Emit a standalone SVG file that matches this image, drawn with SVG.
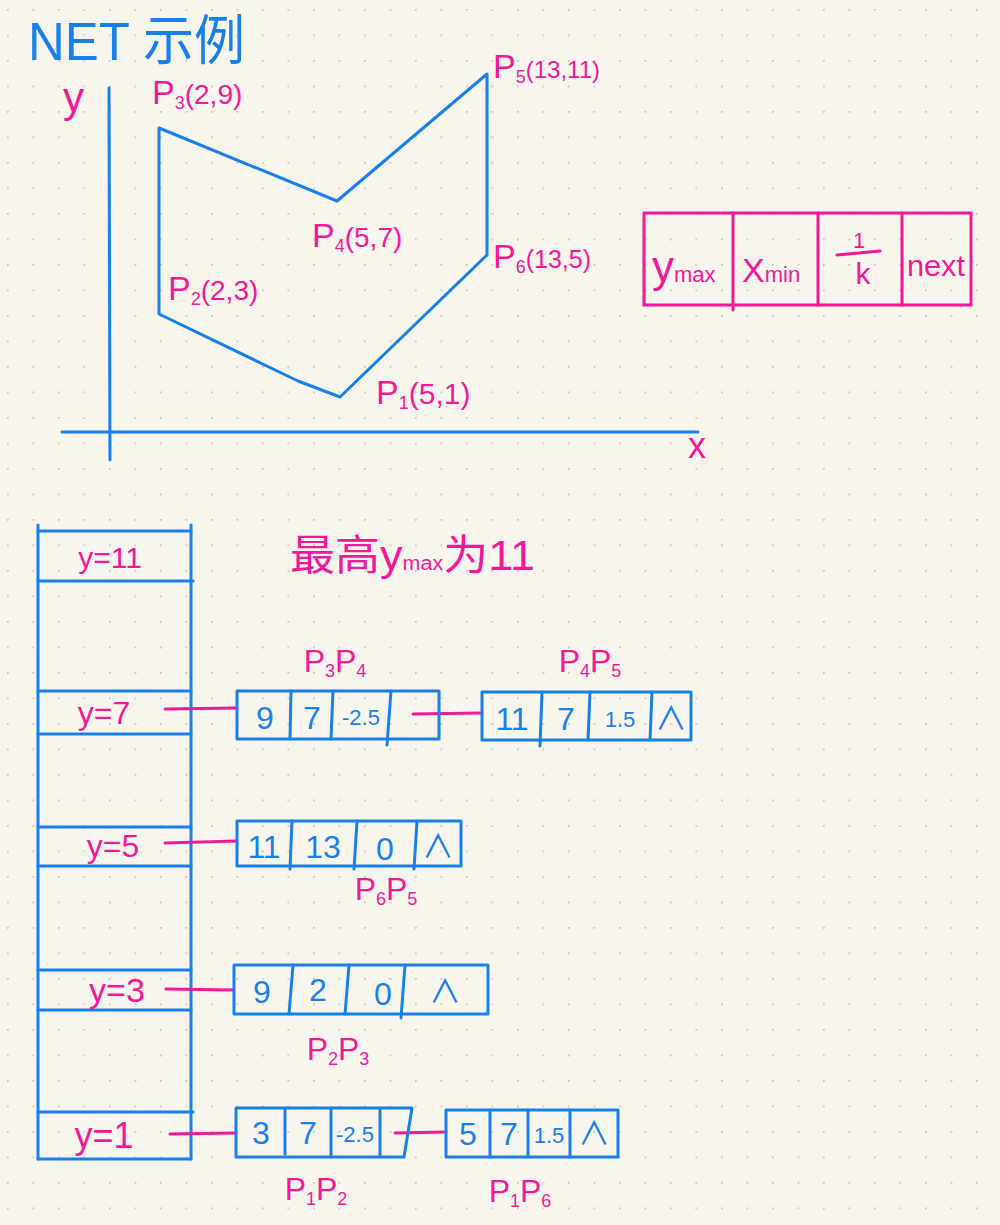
<svg xmlns="http://www.w3.org/2000/svg" width="1000" height="1225" viewBox="0 0 1000 1225">
<defs>
<pattern id="dots" x="7" y="9" width="25.5" height="25.5" patternUnits="userSpaceOnUse">
<circle cx="0.8" cy="0.8" r="1.1" fill="#c9c7bd"/>
</pattern>
<style>
.b{stroke:#1880ec;stroke-width:3;fill:none;stroke-linejoin:round;stroke-linecap:round}
.p{stroke:#f2189a;stroke-width:3;fill:none;stroke-linecap:round}
.tb{fill:#1880ec;font-family:"Liberation Sans","Noto Sans CJK SC",sans-serif}
.tp{fill:#f2189a;font-family:"Liberation Sans","Noto Sans CJK SC",sans-serif}
.v{font-size:32px;text-anchor:middle}
.s{font-size:22px;text-anchor:middle}
.lab{font-size:34px}
.sub{font-size:18px}
.co{font-size:28px}
</style>
</defs>
<rect width="1000" height="1225" fill="#f8f6ec"/>
<rect width="1000" height="1225" fill="url(#dots)"/>

<g id="title">
<text class="tb" x="28" y="60" font-size="54" textLength="217" lengthAdjust="spacingAndGlyphs">NET 示例</text>
</g>

<g id="axes">
<line class="b" x1="109" y1="88" x2="110" y2="460"/>
<line class="b" x1="62" y1="432" x2="698" y2="432"/>
<text class="tp" x="63" y="112" font-size="42">y</text>
<text class="tp" x="688" y="458" font-size="36">x</text>
</g>

<g id="polygon">
<path class="b" d="M159,128 L337,201 L487,74 L487,255 L340,397 L298,381 L159,314 Z"/>
</g>

<g id="vertex-labels">
<text class="tp lab" x="152" y="104">P<tspan class="sub" dy="5">3</tspan><tspan class="co" dy="-5">(2,9)</tspan></text>
<text class="tp lab" x="493" y="78">P<tspan class="sub" dy="5">5</tspan><tspan font-size="24" dy="-5">(13,11)</tspan></text>
<text class="tp lab" x="312" y="247">P<tspan class="sub" dy="5">4</tspan><tspan class="co" dy="-5">(5,7)</tspan></text>
<text class="tp lab" x="493" y="268">P<tspan class="sub" dy="5">6</tspan><tspan font-size="25" dy="-5">(13,5)</tspan></text>
<text class="tp lab" x="168" y="300">P<tspan class="sub" dy="5">2</tspan><tspan class="co" dy="-5">(2,3)</tspan></text>
<text class="tp lab" x="376" y="404">P<tspan class="sub" dy="5">1</tspan><tspan font-size="30" dy="-5">(5,1)</tspan></text>
</g>

<g id="legend">
<rect class="p" x="644" y="213" width="327" height="92"/>
<line class="p" x1="733" y1="213" x2="733" y2="310"/>
<line class="p" x1="818" y1="213" x2="818" y2="305"/>
<line class="p" x1="902" y1="213" x2="902" y2="305"/>
<text class="tp" x="652" y="282" font-size="44">y<tspan font-size="22">max</tspan></text>
<text class="tp" x="742" y="282" font-size="34">X<tspan font-size="22">min</tspan></text>
<line class="p" x1="837" y1="255" x2="880" y2="251"/>
<text class="tp" x="859" y="248" font-size="22" text-anchor="middle">1</text>
<text class="tp" x="863" y="284" font-size="30" text-anchor="middle">k</text>
<text class="tp" x="936" y="276" font-size="30" text-anchor="middle" textLength="58" lengthAdjust="spacingAndGlyphs">next</text>
</g>

<g id="caption">
<text class="tp" x="290" y="570" font-size="42" textLength="245" lengthAdjust="spacingAndGlyphs">最高y<tspan font-size="20">max</tspan>为11</text>
</g>

<g id="bucket-table">
<line class="b" x1="38" y1="525" x2="38" y2="1159"/>
<line class="b" x1="191" y1="525" x2="191" y2="1159"/>
<line class="b" x1="38" y1="531" x2="191" y2="531"/>
<line class="b" x1="38" y1="581" x2="193" y2="581"/>
<line class="b" x1="38" y1="691" x2="191" y2="691"/>
<line class="b" x1="38" y1="734" x2="191" y2="734"/>
<line class="b" x1="38" y1="827" x2="191" y2="827"/>
<line class="b" x1="38" y1="866" x2="191" y2="866"/>
<line class="b" x1="38" y1="970" x2="191" y2="970"/>
<line class="b" x1="38" y1="1010" x2="191" y2="1010"/>
<line class="b" x1="38" y1="1112" x2="193" y2="1112"/>
<line class="b" x1="38" y1="1159" x2="191" y2="1159"/>
<text class="tp" x="110" y="568" font-size="30" text-anchor="middle">y=11</text>
<text class="tp" x="104" y="724" font-size="32" text-anchor="middle">y=7</text>
<text class="tp" x="113" y="857" font-size="32" text-anchor="middle">y=5</text>
<text class="tp" x="117" y="1002" font-size="34" text-anchor="middle">y=3</text>
<text class="tp" x="104" y="1148" font-size="36" text-anchor="middle">y=1</text>
</g>

<g id="connectors">
<line class="p" x1="165" y1="709" x2="237" y2="708"/>
<line class="p" x1="413" y1="714" x2="482" y2="713"/>
<line class="p" x1="165" y1="843" x2="237" y2="841"/>
<line class="p" x1="166" y1="989" x2="233" y2="990"/>
<line class="p" x1="170" y1="1134" x2="236" y2="1133"/>
<line class="p" x1="395" y1="1133" x2="446" y2="1132"/>
</g>

<g id="node-p3p4">
<rect class="b" x="237" y="691" width="202" height="48"/>
<line class="b" x1="291" y1="691" x2="290" y2="739"/>
<line class="b" x1="333" y1="691" x2="331" y2="739"/>
<line class="b" x1="391" y1="691" x2="387" y2="745"/>
<text class="tb v" x="265" y="729">9</text>
<text class="tb v" x="312" y="729">7</text>
<text class="tb s" x="361" y="725">-2.5</text>
<text class="tp" x="335" y="672" font-size="32" text-anchor="middle">P<tspan class="sub" dy="5">3</tspan><tspan dy="-5">P</tspan><tspan class="sub" dy="5">4</tspan></text>
</g>

<g id="node-p4p5">
<rect class="b" x="482" y="692" width="209" height="48"/>
<line class="b" x1="542" y1="692" x2="540" y2="746"/>
<line class="b" x1="590" y1="692" x2="588" y2="740"/>
<line class="b" x1="652" y1="692" x2="650" y2="740"/>
<text class="tb v" x="512" y="730">11</text>
<text class="tb v" x="566" y="730">7</text>
<text class="tb s" x="620" y="727">1.5</text>
<text class="tb v" x="671" y="730">∧</text>
<text class="tp" x="590" y="672" font-size="32" text-anchor="middle">P<tspan class="sub" dy="5">4</tspan><tspan dy="-5">P</tspan><tspan class="sub" dy="5">5</tspan></text>
</g>

<g id="node-p6p5">
<rect class="b" x="237" y="821" width="224" height="45"/>
<line class="b" x1="292" y1="821" x2="290" y2="869"/>
<line class="b" x1="357" y1="821" x2="354" y2="869"/>
<line class="b" x1="417" y1="821" x2="414" y2="869"/>
<text class="tb v" x="264" y="858">11</text>
<text class="tb v" x="323" y="858">13</text>
<text class="tb v" x="385" y="860">0</text>
<text class="tb v" x="438" y="858">∧</text>
<text class="tp" x="386" y="900" font-size="32" text-anchor="middle">P<tspan class="sub" dy="5">6</tspan><tspan dy="-5">P</tspan><tspan class="sub" dy="5">5</tspan></text>
</g>

<g id="node-p2p3">
<rect class="b" x="234" y="965" width="254" height="49"/>
<line class="b" x1="293" y1="965" x2="289" y2="1014"/>
<line class="b" x1="349" y1="965" x2="345" y2="1014"/>
<line class="b" x1="405" y1="965" x2="401" y2="1018"/>
<text class="tb v" x="262" y="1003">9</text>
<text class="tb v" x="318" y="1001">2</text>
<text class="tb v" x="383" y="1005">0</text>
<text class="tb v" x="445" y="1003">∧</text>
<text class="tp" x="338" y="1060" font-size="32" text-anchor="middle">P<tspan class="sub" dy="5">2</tspan><tspan dy="-5">P</tspan><tspan class="sub" dy="5">3</tspan></text>
</g>

<g id="node-p1p2">
<path class="b" d="M236,1108 L412,1108 L404,1157 L236,1157 Z"/>
<line class="b" x1="285" y1="1108" x2="285" y2="1154"/>
<line class="b" x1="331" y1="1108" x2="331" y2="1157"/>
<line class="b" x1="380" y1="1108" x2="380" y2="1157"/>
<text class="tb v" x="261" y="1144">3</text>
<text class="tb v" x="308" y="1144">7</text>
<text class="tb s" x="355" y="1142">-2.5</text>
<text class="tp" x="316" y="1200" font-size="32" text-anchor="middle">P<tspan class="sub" dy="5">1</tspan><tspan dy="-5">P</tspan><tspan class="sub" dy="5">2</tspan></text>
</g>

<g id="node-p1p6">
<rect class="b" x="446" y="1110" width="172" height="47"/>
<line class="b" x1="490" y1="1110" x2="490" y2="1157"/>
<line class="b" x1="528" y1="1110" x2="528" y2="1157"/>
<line class="b" x1="570" y1="1110" x2="570" y2="1157"/>
<text class="tb v" x="468" y="1145">5</text>
<text class="tb v" x="509" y="1145">7</text>
<text class="tb s" x="549" y="1143">1.5</text>
<text class="tb v" x="594" y="1145">∧</text>
<text class="tp" x="520" y="1202" font-size="32" text-anchor="middle">P<tspan class="sub" dy="5">1</tspan><tspan dy="-5">P</tspan><tspan class="sub" dy="5">6</tspan></text>
</g>
</svg>
